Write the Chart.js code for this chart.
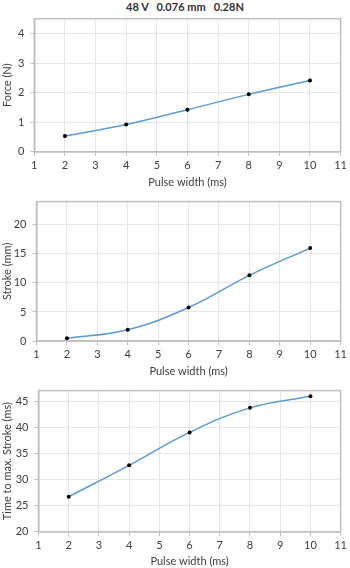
<!DOCTYPE html>
<html>
<head>
<meta charset="utf-8">
<script src="https://cdn.jsdelivr.net/npm/chart.js@4/dist/chart.umd.min.js"></script>
<style>
  html, body { margin: 0; padding: 0; background: #fff; }
  body { width: 350px; height: 568px; position: relative; overflow: hidden; }
  .box { position: absolute; left: 0; width: 350px; }
  #title { position: absolute; top: 0px; left: 125px; width: 120px; text-align: center;
           font: bold 11px Lato, sans-serif; white-space: pre; color: #333; line-height: 13px; }
</style>
</head>
<body>
<div id="title">48 V   0.076 mm   0.28N</div>
<div class="box" style="top:0px;height:189px"><canvas id="c1"></canvas></div>
<div class="box" style="top:189px;height:189px"><canvas id="c2"></canvas></div>
<div class="box" style="top:378px;height:190px"><canvas id="c3"></canvas></div>
<script>
// ---- data ----
const pulseWidth = [2, 4, 6, 8, 10];
const force = [0.53, 0.92, 1.42, 1.94, 2.41];
const stroke = [0.46, 1.94, 5.77, 11.3, 16.0];
const timeToMaxStroke = [26.7, 32.7, 39.0, 43.7, 45.9];
const xTitle = 'Pulse width (ms)';
const yTitles = ['Force (N)', 'Stroke (mm)', 'Time to max. Stroke (ms)'];

const FONT = 'Lato, sans-serif';
const GRID = '#E6E6E6';
const AXIS = '#BFBFBF';
const TEXT = '#404040';

const framePlugin = {
  id: 'frame',
  afterDraw(chart) {
    const a = chart.chartArea, ctx = chart.ctx;
    ctx.save();
    ctx.strokeStyle = AXIS;
    ctx.lineWidth = 1.5;
    ctx.strokeRect(a.left, a.top, a.right - a.left, a.bottom - a.top);
    ctx.restore();
  }
};

function makeChart(id, values, yTitle, yMin, yMax, yStep, geom) {
  const pts = pulseWidth.map((x, i) => ({ x: x, y: values[i] }));
  return new Chart(document.getElementById(id), {
    type: 'line',
    data: { datasets: [{
      data: pts,
      borderColor: '#5B9BD5',
      borderWidth: 1.5,
      tension: 0.4,
      pointRadius: 2,
      pointBackgroundColor: '#000',
      pointBorderColor: '#000',
      pointBorderWidth: 0,
      fill: false
    }]},
    plugins: [framePlugin],
    options: {
      responsive: true,
      maintainAspectRatio: false,
      animation: false,
      devicePixelRatio: 1,
      layout: { padding: { top: geom.top, right: geom.right, left: 0, bottom: 0 } },
      plugins: { legend: { display: false }, tooltip: { enabled: false }, title: { display: false } },
      scales: {
        x: {
          type: 'linear', min: 1, max: 11,
          ticks: { stepSize: 1, color: TEXT, font: { family: FONT, size: 11 }, padding: 3, maxRotation: 0 },
          grid: { color: GRID, tickColor: AXIS, tickLength: 4 },
          border: { color: AXIS, width: 1.5 },
          title: { display: true, text: xTitle, color: TEXT, font: { family: FONT, size: 11 }, padding: 0 },
          afterFit(s) { s.height = geom.xh; }
        },
        y: {
          type: 'linear', min: yMin, max: yMax,
          ticks: { stepSize: yStep, includeBounds: false, color: TEXT, font: { family: FONT, size: 11 }, padding: 6 },
          grid: { color: GRID, tickColor: AXIS, tickLength: 4 },
          border: { color: AXIS, width: 1.5 },
          title: { display: true, text: yTitle, color: TEXT, font: { family: FONT, size: 11 }, padding: { top: 1, bottom: 0 } },
          afterFit(s) { s.width = geom.yw; }
        }
      }
    }
  });
}

makeChart('c1', force, yTitles[0], 0, 4.5, 1, { top: 18.7, right: 6.7, xh: 189 - 151.7, yw: 34.3 });
makeChart('c2', stroke, yTitles[1], 0, 24, 5, { top: 12, right: 8.5, xh: 189 - 152, yw: 36.5 });
makeChart('c3', timeToMaxStroke, yTitles[2], 20, 47, 5, { top: 10.7, right: 8.3, xh: 190 - 153.7, yw: 38.5 });
</script>
</body>
</html>
